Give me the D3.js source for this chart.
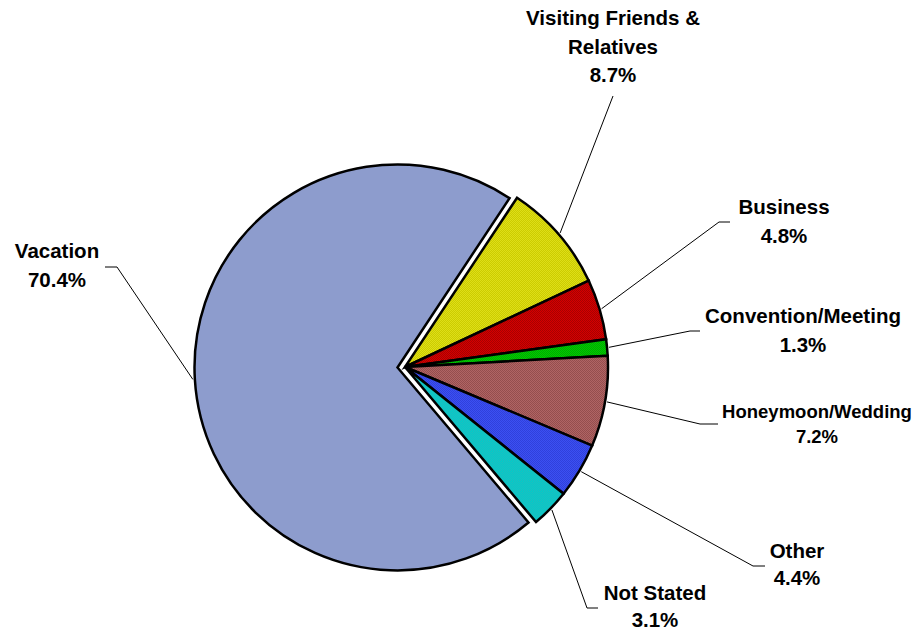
<!DOCTYPE html>
<html>
<head>
<meta charset="utf-8">
<script src="https://cdn.jsdelivr.net/npm/d3@7"></script>
<style>
  body { margin: 0; background: #fff; }
  text { font-family: "Liberation Sans", Arial, sans-serif; font-weight: bold; fill: #000; }
</style>
</head>
<body>
<div class="container"></div>
<script>
// slices, clockwise from the Visiting edge
const categories = ["Visiting Friends & Relatives", "Business", "Convention/Meeting", "Honeymoon/Wedding", "Other", "Not Stated", "Vacation"]
const values = [8.7, 4.8, 1.3, 7.2, 4.4, 3.1, 70.4]
const labelLines = [["Visiting Friends &", "Relatives", "8.7%"], ["Business", "4.8%"], ["Convention/Meeting", "1.3%"], ["Honeymoon/Wedding", "7.2%"], ["Other", "4.4%"], ["Not Stated", "3.1%"], ["Vacation", "70.4%"]]
const baseColors = ["#cccc00", "#d40000", "#00cc00", "#b06464", "#3c50f2", "#00cccc", "#8090c4"]
const dotColors = ["#dede18", "#a80000", "#00a800", "#944e4e", "#3040dc", "#22bcbc", "#9aa8d6"]

const w = 918
const h = 632
const cx = 405, cy = 367
const r = 203
const explode = 7.5

// label placement: text centre x, first baseline, leader end (elbow) and stub end
const labelPos = [
  {x: 613, y: 25, size: 20.5, gap: 28.5, elbow: [613, 96], stub: null},
  {x: 784, y: 214, size: 20.5, gap: 29, elbow: [719, 222], stub: [730, 222]},
  {x: 803, y: 323, size: 20.5, gap: 29, elbow: [690, 331], stub: [700, 331]},
  {x: 817, y: 418, size: 18.5, gap: 25, elbow: [700, 424], stub: [718, 424]},
  {x: 797, y: 558, size: 20.5, gap: 27, elbow: [753, 566], stub: [765, 566]},
  {x: 655, y: 600, size: 20.5, gap: 27, elbow: [587, 608], stub: [598, 608]},
  {x: 57, y: 258, size: 20.5, gap: 29, elbow: [117, 267], stub: [105, 267]}
]

const svg = d3.select(".container")
  .append("svg")
  .attr("width", w)
  .attr("height", h)

const defs = svg.append("defs")
baseColors.forEach((c, i) => {
  const p = defs.append("pattern")
    .attr("id", "pat" + i)
    .attr("width", 2).attr("height", 2)
    .attr("patternUnits", "userSpaceOnUse")
  p.append("rect").attr("width", 2).attr("height", 2).attr("fill", c)
  p.append("rect").attr("width", 1).attr("height", 1).attr("fill", dotColors[i])
  p.append("rect").attr("x", 1).attr("y", 1).attr("width", 1).attr("height", 1).attr("fill", dotColors[i])
})

const start = 33.5 * Math.PI / 180
const pie = d3.pie().sort(null).startAngle(start).endAngle(start + 2 * Math.PI)
const arcs = pie(values)
const arc = d3.arc().innerRadius(0).outerRadius(r)

function mid(d) { return (d.startAngle + d.endAngle) / 2 }
function offsetOf(i) {
  if (i !== 6) return [0, 0]
  const a = mid(arcs[i])
  return [explode * Math.sin(a), -explode * Math.cos(a)]
}

// leader lines
arcs.forEach((d, i) => {
  const a = mid(d)
  const o = offsetOf(i)
  const p0 = [cx + o[0] + (r + 2) * Math.sin(a), cy + o[1] - (r + 2) * Math.cos(a)]
  const pts = [p0, labelPos[i].elbow]
  if (labelPos[i].stub) pts.push(labelPos[i].stub)
  svg.append("path")
    .attr("d", d3.line()(pts))
    .attr("fill", "none")
    .attr("stroke", "#000")
    .attr("stroke-width", 1)
})

svg.selectAll("path.slice")
  .data(arcs)
  .enter()
  .append("path")
  .attr("class", "slice")
  .attr("d", arc)
  .attr("transform", (d, i) => "translate(" + (cx + offsetOf(i)[0]) + "," + (cy + offsetOf(i)[1]) + ")")
  .attr("fill", (d, i) => "url(#pat" + i + ")")
  .attr("stroke", "#000")
  .attr("stroke-width", 2.5)
  .attr("stroke-linejoin", "miter")
  .append("title")
  .text((d, i) => categories[i] + ": " + values[i] + "%")

labelLines.forEach((lines, i) => {
  const lp = labelPos[i]
  const t = svg.append("text")
    .attr("text-anchor", "middle")
    .attr("font-size", lp.size)
  lines.forEach((s, j) => {
    t.append("tspan")
      .attr("x", lp.x)
      .attr("y", lp.y + j * lp.gap)
      .text(s)
  })
})
</script>
</body>
</html>
